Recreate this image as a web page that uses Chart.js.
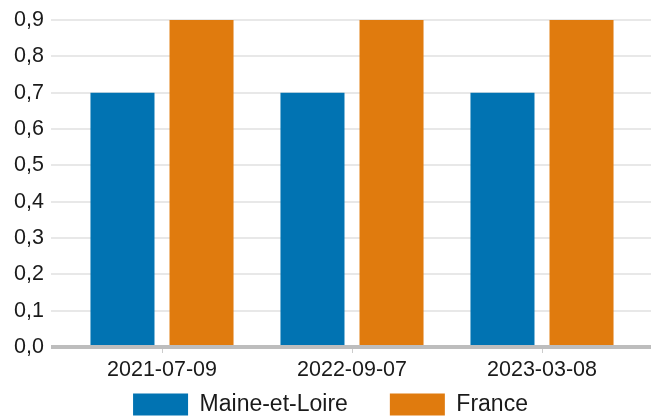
<!doctype html>
<html>
    <head>
        <meta charset="utf-8">
        <script src="https://cdn.jsdelivr.net/npm/chart.js@4/dist/chart.umd.min.js"></script>
        <style>
            html, body { margin: 0; padding: 0; background: #fff; overflow: hidden; }
            #wrap { width: 657px; height: 426px; position: relative; }
        </style>
    </head>
    <body>
        <div id="wrap">
            <canvas id="chart"></canvas>
        </div>
        <script>
            var dates = ['2021-07-09', '2022-09-07', '2023-03-08'];
            var maineEtLoire = [0.7, 0.7, 0.7];
            var france = [0.9, 0.9, 0.9];
            var yTicks = [0, 0.1, 0.2, 0.3, 0.4, 0.5, 0.6, 0.7, 0.8, 0.9];

            Chart.defaults.font.family = '"Liberation Sans", Arial, sans-serif';
            Chart.defaults.font.size = 21.5;
            Chart.defaults.color = '#1a1a1a';

            function gridColor(c) { return c.tick && c.tick.value === 0 ? '#bdbdbd' : '#e8e8e8'; }
            function gridWidth(c) { return c.tick && c.tick.value === 0 ? 4 : 2; }

            var ctx = document.getElementById('chart').getContext('2d');
            var chart = new Chart(ctx, {
                type: 'bar',
                data: {
                    labels: dates,
                    datasets: [{
                        label: 'Maine-et-Loire',
                        backgroundColor: '#0173b2',
                        data: maineEtLoire
                    }, {
                        label: 'France',
                        backgroundColor: '#e07b0e',
                        data: france
                    }]
                },
                options: {
                    responsive: true,
                    maintainAspectRatio: false,
                    animation: false,
                    datasets: {
                        bar: { barPercentage: 0.81, categoryPercentage: 0.832 }
                    },
                    layout: { padding: { top: 20, right: 0, left: 4, bottom: 0 } },
                    plugins: {
                        tooltip: { enabled: false },
                        legend: {
                            position: 'bottom',
                            labels: { boxWidth: 55, boxHeight: 22, padding: 42, color: '#1a1a1a', font: { size: 23 } }
                        }
                    },
                    scales: {
                        x: {
                            // keep the axis box short so the legend sits close, but don't clip the labels
                            afterFit: function (s) {
                                s.height = 4;
                                s._computeLabelArea = function () { return undefined; };
                            },
                            grid: { offset: false, drawOnChartArea: false, drawTicks: true, tickLength: 6, color: '#cccccc', lineWidth: 1 },
                            border: { display: false },
                            ticks: { padding: 4, maxRotation: 0 }
                        },
                        y: {
                            position: 'left',
                            min: 0,
                            max: 0.9,
                            afterBuildTicks: function (s) { s.ticks = yTicks.map(function (v) { return { value: v }; }); },
                            afterFit: function (s) { s.width = 63; },
                            grid: { color: gridColor, lineWidth: gridWidth, tickColor: gridColor, tickLength: 16, drawTicks: true },
                            border: { display: false },
                            ticks: {
                                padding: 7,
                                callback: function (v) { return v.toFixed(1).replace('.', ','); }
                            }
                        },
                        yRight: {
                            position: 'right',
                            min: 0,
                            max: 0.9,
                            afterBuildTicks: function (s) { s.ticks = yTicks.map(function (v) { return { value: v }; }); },
                            afterFit: function (s) { s.width = 20; },
                            grid: { color: gridColor, lineWidth: gridWidth, tickColor: gridColor, tickLength: 14, drawTicks: true, drawOnChartArea: false },
                            border: { display: false },
                            ticks: { display: false }
                        }
                    }
                }
            });
        </script>
    </body>
</html>
